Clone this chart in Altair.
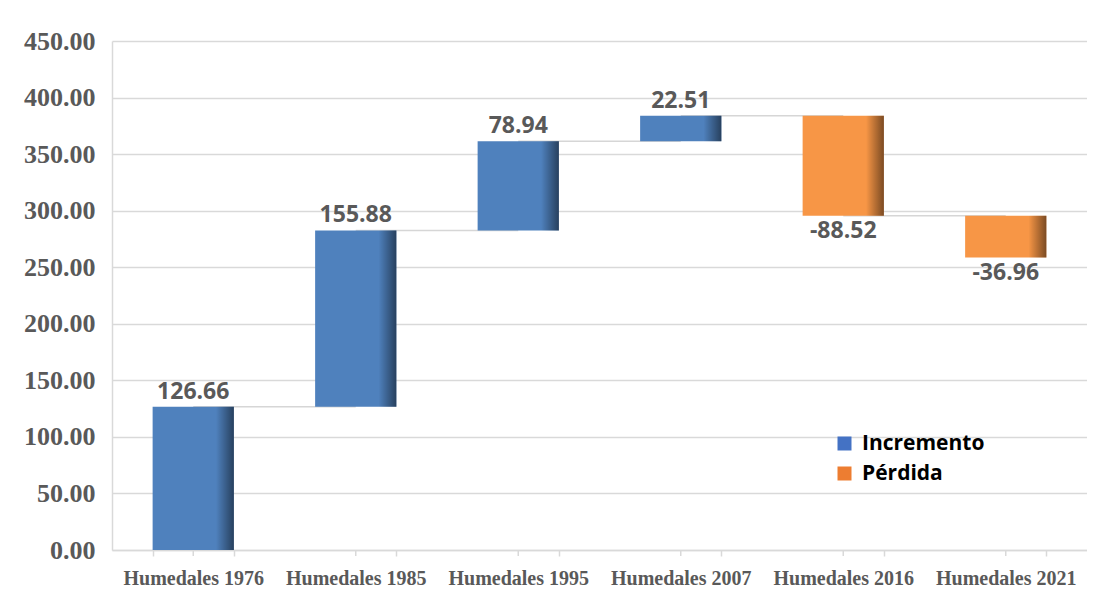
import altair as alt
import pandas as pd

categories = ["Humedales 1976", "Humedales 1985", "Humedales 1995",
              "Humedales 2007", "Humedales 2016", "Humedales 2021"]
changes = [126.66, 155.88, 78.94, 22.51, -88.52, -36.96]
y_ticks = [0, 50, 100, 150, 200, 250, 300, 350, 400, 450]
legend_names = ["Incremento", "Pérdida"]
bar_colors = ["#4F81BD", "#F79646"]
legend_colors = ["#4472C4", "#ED7D31"]

rows = []
total = 0.0
for cat, v in zip(categories, changes):
    start = total
    total = total + v
    rows.append({
        "cat": cat, "value": v, "start": start, "end": total,
        "tipo": legend_names[0] if v >= 0 else legend_names[1],
        "label": f"{v:.2f}", "pos": v >= 0,
    })
df = pd.DataFrame(rows)

conn = pd.DataFrame([
    {"from": categories[i], "to": categories[i + 1], "level": rows[i]["end"]}
    for i in range(len(categories) - 1)
])

leg_df = pd.DataFrame({"leyenda": legend_names, "cat": categories[:2], "end": [0, 0]})

W, H = 975, 509
xscale = alt.Scale(domain=categories, paddingInner=0.5, paddingOuter=0.25)
yscale = alt.Scale(domain=[0, 450], nice=False, zero=True)

x_axis = alt.Axis(
    title=None, labelAngle=0, labelFont="Liberation Serif", labelFontWeight="bold",
    labelFontSize=20, labelColor="#595959", tickBand="extent", tickColor="#d9d9d9",
    tickSize=6, tickWidth=1.5, domainColor="#d9d9d9", domainWidth=1.5, grid=False,
    labelPadding=12,
)
y_axis = alt.Axis(
    title=None, values=y_ticks, format=".2f", labelFont="Liberation Serif",
    labelFontWeight="bold", labelFontSize=26, labelColor="#595959", ticks=False,
    domainColor="#d9d9d9", domainWidth=1.5, gridColor="#d9d9d9", gridWidth=1.5,
    labelPadding=17,
)

base = alt.Chart(df)

connectors = alt.Chart(conn).mark_rule(color="#d6d6d6", strokeWidth=1.5).encode(
    x=alt.X("from:N", scale=xscale, axis=x_axis),
    x2="to:N",
    y=alt.Y("level:Q", scale=yscale, axis=y_axis),
)

bars = base.mark_bar().encode(
    x=alt.X("cat:N", scale=xscale, axis=x_axis),
    y=alt.Y("start:Q", scale=yscale, axis=y_axis),
    y2="end:Q",
    fill=alt.Fill("tipo:N", scale=alt.Scale(domain=legend_names, range=bar_colors), legend=None),
)

shade = base.mark_bar(
    fill=alt.Gradient(
        gradient="linear",
        stops=[
            alt.GradientStop(color="rgba(0,0,0,0)", offset=0),
            alt.GradientStop(color="rgba(0,0,0,0)", offset=0.78),
            alt.GradientStop(color="rgba(0,0,0,0.5)", offset=1),
        ],
        x1=0, x2=1, y1=0, y2=0,
    )
).encode(
    x=alt.X("cat:N", scale=xscale),
    y=alt.Y("start:Q", scale=yscale),
    y2="end:Q",
)

label_style = dict(font="Open Sans", fontWeight="bold", fontSize=23, color="#595959")
pos_labels = base.transform_filter("datum.pos").mark_text(
    baseline="bottom", dy=-3, **label_style
).encode(
    x=alt.X("cat:N", scale=xscale),
    y=alt.Y("end:Q", scale=yscale),
    text="label:N",
)
neg_labels = base.transform_filter("!datum.pos").mark_text(
    baseline="top", dy=4, **label_style
).encode(
    x=alt.X("cat:N", scale=xscale),
    y=alt.Y("end:Q", scale=yscale),
    text="label:N",
)

legend_layer = alt.Chart(leg_df).mark_square(opacity=0, size=1).encode(
    x=alt.X("cat:N", scale=xscale),
    y=alt.Y("end:Q", scale=yscale),
    color=alt.Color(
        "leyenda:N",
        scale=alt.Scale(domain=legend_names, range=legend_colors),
        legend=alt.Legend(
            title=None, orient="none", legendX=722, legendY=392,
            symbolType="square", symbolSize=196, symbolOpacity=1, symbolStrokeWidth=0,
            labelFont="Open Sans", labelFontWeight="bold", labelFontSize=21,
            labelColor="#000000", labelOffset=7, rowPadding=8, padding=0,
        ),
    ),
)

center_ticks = base.mark_rule(color="#d9d9d9", strokeWidth=1.5).encode(
    x=alt.X("cat:N", scale=xscale),
    y=alt.value(H),
    y2=alt.value(H + 6),
)

chart = alt.layer(
    connectors, bars, shade, pos_labels, neg_labels, legend_layer, center_ticks
).resolve_scale(color="independent", fill="independent").properties(
    width=W, height=H, padding={"left": 15, "top": 20, "right": 0, "bottom": 5},
    background="white",
).configure_view(stroke=None)

chart.save("out.html", embed_options={"renderer": "svg", "actions": False})
